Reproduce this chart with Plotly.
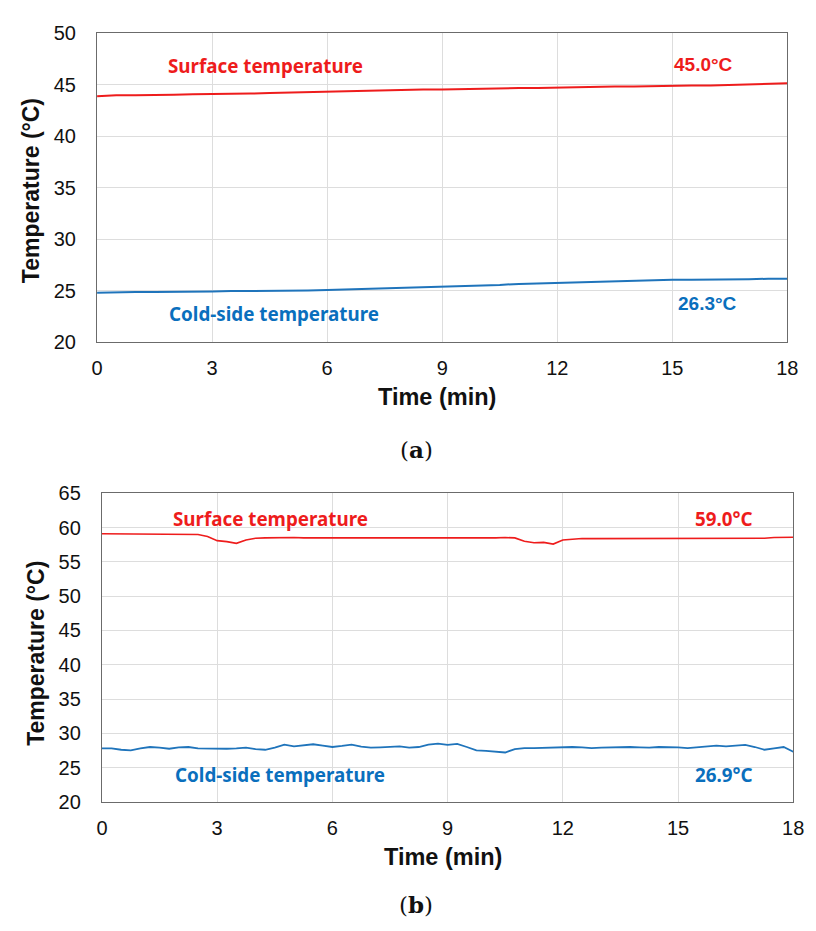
import plotly.graph_objects as go

# ---------------- data ----------------
time_a = [0, 0.5, 1, 1.5, 2, 2.5, 3, 3.5, 4, 4.5, 5, 5.5, 6, 6.5, 7, 7.5, 8, 8.5, 9,
          9.5, 10, 10.5, 11, 11.5, 12, 12.5, 13, 13.5, 14, 14.5, 15, 15.5, 16, 16.5, 17, 17.5, 18]
surface_a = [43.9, 44.0, 44.0, 44.0, 44.05, 44.1, 44.1, 44.15, 44.15, 44.2, 44.25, 44.3, 44.35,
             44.4, 44.45, 44.5, 44.5, 44.55, 44.55, 44.6, 44.65, 44.65, 44.7, 44.7, 44.75, 44.8,
             44.8, 44.85, 44.85, 44.9, 44.9, 44.95, 44.95, 45.0, 45.0, 45.05, 45.15]
cold_a = [24.8, 24.85, 24.85, 24.85, 24.85, 24.9, 24.9, 24.95, 24.95, 25.0, 25.0, 25.0, 25.05,
          25.1, 25.15, 25.2, 25.25, 25.3, 25.35, 25.4, 25.5, 25.55, 25.65, 25.7, 25.75, 25.8,
          25.85, 25.9, 25.95, 26.05, 26.05, 26.05, 26.05, 26.1, 26.1, 26.15, 26.15]

time_b = [0, 0.25, 0.5, 0.75, 1, 1.25, 1.5, 1.75, 2, 2.25, 2.5, 2.75, 3, 3.25, 3.5, 3.75,
          4, 4.25, 4.5, 4.75, 5, 5.25, 5.5, 5.75, 6, 6.25, 6.5, 6.75, 7, 7.25, 7.5, 7.75,
          8, 8.25, 8.5, 8.75, 9, 9.25, 9.5, 9.75, 10, 10.25, 10.5, 10.75, 11, 11.25, 11.5, 11.75,
          12, 12.25, 12.5, 12.75, 13, 13.25, 13.5, 13.75, 14, 14.25, 14.5, 14.75, 15, 15.25,
          15.5, 15.75, 16, 16.25, 16.5, 16.75, 17, 17.25, 17.5, 17.75, 18]
surface_b = [59.1, 59.1, 59.05, 59.05, 59.05, 59.05, 59.0, 59.0, 59.0, 59.0, 59.0, 58.7,
             58.1, 57.95, 57.7, 58.2, 58.45, 58.5, 58.55, 58.55, 58.55, 58.5, 58.5, 58.45,
             58.4, 58.45, 58.45, 58.45, 58.5, 58.5, 58.5, 58.5, 58.5, 58.5, 58.5, 58.5,
             58.5, 58.45, 58.5, 58.5, 58.5, 58.5, 58.55, 58.5, 58.0, 57.8, 57.85, 57.6,
             58.2, 58.35, 58.4, 58.4, 58.4, 58.4, 58.4, 58.4, 58.4, 58.4, 58.4, 58.4,
             58.4, 58.4, 58.4, 58.4, 58.4, 58.4, 58.4, 58.4, 58.45, 58.45, 58.55, 58.6, 58.6]
cold_b = [27.8, 27.8, 27.6, 27.5, 27.8, 28.0, 27.9, 27.75, 27.95, 28.0, 27.8, 27.75,
          27.75, 27.75, 27.8, 27.9, 27.7, 27.6, 27.9, 28.35, 28.1, 28.2, 28.4, 28.2,
          28.0, 28.15, 28.35, 28.05, 27.9, 27.95, 28.0, 28.1, 27.9, 28.0, 28.35, 28.5,
          28.3, 28.45, 28.0, 27.5, 27.45, 27.35, 27.2, 27.7, 27.85, 27.85, 27.9, 27.95,
          27.95, 28.0, 27.95, 27.85, 27.9, 27.95, 28.05, 28.0, 27.95, 27.9, 28.0, 28.0,
          27.95, 27.85, 27.95, 28.1, 28.2, 28.1, 28.2, 28.3, 28.0, 27.6, 27.8, 28.0, 27.3]

x_ticks = [0, 3, 6, 9, 12, 15, 18]
y_ticks_a = [20, 25, 30, 35, 40, 45, 50]
y_ticks_b = [20, 25, 30, 35, 40, 45, 50, 55, 60, 65]

label_surface = "Surface temperature"
label_cold = "Cold-side temperature"
final_a = ["45.0°C", "26.3°C"]
final_b = ["59.0°C", "26.9°C"]

# ---------------- styling ----------------
RED = "#ee1c1c"
BLUE_LINE = "#1f74bb"
BLUE_TXT = "#0a6fbd"
W, H = 816, 931

fig = go.Figure()
fig.add_trace(go.Scatter(x=time_a, y=surface_a, mode="lines", line=dict(color=RED, width=2),
                         xaxis="x", yaxis="y", showlegend=False))
fig.add_trace(go.Scatter(x=time_a, y=cold_a, mode="lines", line=dict(color=BLUE_LINE, width=2),
                         xaxis="x", yaxis="y", showlegend=False))
fig.add_trace(go.Scatter(x=time_b, y=surface_b, mode="lines", line=dict(color=RED, width=1.6),
                         xaxis="x2", yaxis="y2", showlegend=False))
fig.add_trace(go.Scatter(x=time_b, y=cold_b, mode="lines", line=dict(color=BLUE_LINE, width=1.8),
                         xaxis="x2", yaxis="y2", showlegend=False))

tickfont = dict(family="Liberation Sans, Arial", size=20, color="#111111")
axis_common = dict(showgrid=True, gridcolor="#dddddd", gridwidth=1, showline=True,
                   linecolor="#6b6b6b", linewidth=1.3, mirror=True, zeroline=False,
                   ticks="", tickfont=tickfont)

def xdom(left_px, right_px):
    return [left_px / W, right_px / W]

def ydom(top_px, bottom_px):
    return [1 - bottom_px / H, 1 - top_px / H]

fig.update_layout(
    width=W, height=H,
    margin=dict(l=0, r=0, t=0, b=0),
    paper_bgcolor="white", plot_bgcolor="white",
    xaxis=dict(domain=xdom(93, 798), range=[0, 18], tickvals=x_ticks, anchor="y",
               ticklabelstandoff=8, ticklabeloverflow="allow", **axis_common),
    yaxis=dict(domain=ydom(23, 339), range=[20, 50], tickvals=y_ticks_a, anchor="x",
               ticklabelstandoff=16, **axis_common),
    xaxis2=dict(domain=xdom(98, 804), range=[0, 18], tickvals=x_ticks, anchor="y2",
                ticklabelstandoff=8, ticklabeloverflow="allow", **axis_common),
    yaxis2=dict(domain=ydom(494, 810), range=[20, 65], tickvals=y_ticks_b, anchor="x2",
                ticklabelstandoff=16, **axis_common),
)

def px_ann(text, x, y, color="#111111", size=18, family="Noto Sans", angle=0):
    fig.add_annotation(text=text, x=x / W, y=1 - y / H,
                       xref="paper", yref="paper",
                       showarrow=False, xanchor="center", yanchor="middle", textangle=angle,
                       font=dict(family=family, size=size, color=color))

title_font = "Liberation Sans, Arial"
# axis titles
px_ann("<b>Temperature (°C)</b>", 25, 184, size=23, family=title_font, angle=-90)
px_ann("<b>Time (min)</b>", 440, 395, size=23.5, family=title_font)
px_ann("<b>Temperature (°C)</b>", 31, 658, size=23, family=title_font, angle=-90)
px_ann("<b>Time (min)</b>", 446, 866, size=23.5, family=title_font)

# series labels
px_ann("<b>" + label_surface + "</b>", 265, 56, color=RED, size=18.8)
px_ann("<b>" + final_a[0] + "</b>", 712, 55, color=RED, size=19, family=title_font)
px_ann("<b>" + label_cold + "</b>", 274, 310, color=BLUE_TXT, size=18.8)
px_ann("<b>" + final_a[1] + "</b>", 716, 300, color=BLUE_TXT, size=19, family=title_font)

px_ann("<b>" + label_surface + "</b>", 270, 520, color=RED, size=18.8)
px_ann("<b>" + final_b[0] + "</b>", 733, 520, color=RED, size=18.8)
px_ann("<b>" + label_cold + "</b>", 280, 782, color=BLUE_TXT, size=18.8)
px_ann("<b>" + final_b[1] + "</b>", 733, 782, color=BLUE_TXT, size=18.8)

# panel captions
px_ann("(<b>a</b>)", 419, 449, size=23, family="DejaVu Serif, Liberation Serif")
px_ann("(<b>b</b>)", 419, 915, size=23, family="DejaVu Serif, Liberation Serif")

fig.write_html("out.html")
